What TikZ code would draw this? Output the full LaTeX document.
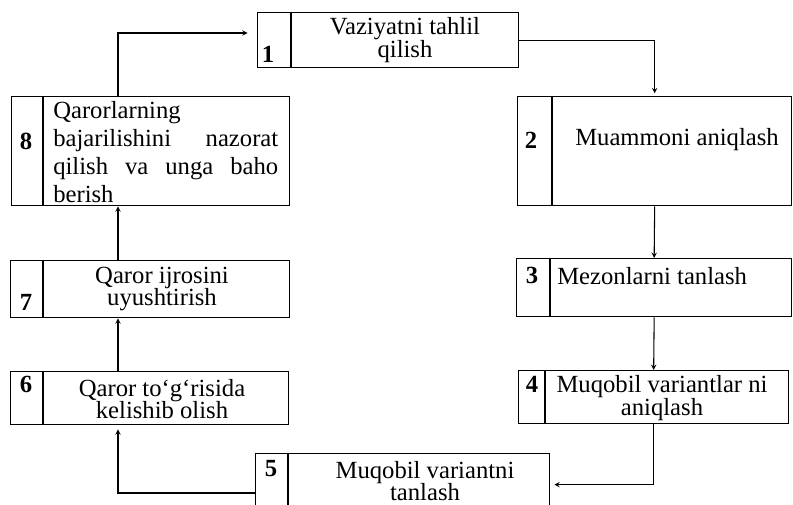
\documentclass[tikz,border=0pt]{standalone}
\usepackage{fontspec}
\setmainfont{Liberation Serif}
\usepackage{tikz}

\tikzset{
  box/.style={draw, line width=1pt, anchor=north west, inner sep=0pt},
  num/.style={font=\fontsize{18.5}{17}\selectfont\bfseries, inner sep=0.75pt},
  txt/.style={inner sep=0.75pt, align=center},
  arr/.style={->, >=stealth, line width=0.8pt},
}

\begin{document}
\begin{tikzpicture}[x=0.75pt,y=0.75pt,yscale=-1,xscale=1, font=\fontsize{18.5}{17}\selectfont]
    \useasboundingbox (0,0) rectangle (793,505);

    %Boxes
    \node (b1) [box, minimum width=195.75pt, minimum height=41.25pt] at (257,12) {};
    \node (b2) [box, minimum width=205.5pt, minimum height=81.75pt] at (517,96) {};
    \node (b3) [box, minimum width=206.25pt, minimum height=43.5pt] at (516,258) {};
    \node (b4) [box, minimum width=202.5pt, minimum height=39.75pt] at (518,370) {};
    \node (b5) [box, minimum width=220.5pt, minimum height=46.5pt] at (255,453) {};
    \node (b6) [box, minimum width=208.5pt, minimum height=39.75pt] at (10,371) {};
    \node (b7) [box, minimum width=209.25pt, minimum height=42.75pt] at (10,260) {};
    \node (b8) [box, minimum width=208.5pt, minimum height=81.75pt] at (11,96) {};

    %Number cells
    \draw [line width=1pt] (291,12) -- (291,67);
    \draw [line width=1pt] (552,96) -- (552,205);
    \draw [line width=1pt] (550,258) -- (550,316);
    \draw [line width=1pt] (545,370) -- (545,423);
    \draw [line width=1pt] (288,453) -- (288,515);
    \draw [line width=1pt] (43,371) -- (43,424);
    \draw [line width=1pt] (43,260) -- (43,317);
    \draw [line width=1pt] (43,96) -- (43,205);

    % Numbers
    \node (n1) [num] at (268,54) {1};
    \node (n2) [num] at (531,140) {2};
    \node (n3) [num] at (532,275) {3};
    \node (n4) [num] at (532,384) {4};
    \node (n5) [num] at (271,469) {5};
    \node (n6) [num] at (26,384) {6};
    \node (n7) [num] at (26,302) {7};
    \node (n8) [num] at (26,141) {8};

    % Text Nodes
    \node (t1) [txt] at (405,40) {Vaziyatni tahlil\\qilish};
    \node (t2) [txt] at (677,140) {Muammoni aniqlash};
    \node (t3) [txt, anchor=west] at (556,276) {Mezonlarni tanlash};
    \node (t4) [txt] at (662,398) {Muqobil variantlar ni\\aniqlash};
    \node (t5) [txt] at (425,481) {Muqobil variantni\\tanlash};
    \node (t6) [txt] at (162,399) {Qaror to‘g‘risida\\kelishib olish};
    \node (t7) [txt] at (162,289) {Qaror ijrosini\\uyushtirish};
    \node (t8) [txt, anchor=north west, text width=168.75pt, align=left,
      font=\fontsize{18.5}{21}\selectfont] at (52,100)
      {Qarorlarning\\bajarilishini\hfill nazorat\\qilish\hfill va\hfill unga\hfill baho\\berish};

    %Connectors
    \coordinate (lx) at (118,0);
    \coordinate (y1) at (0,33);
    \coordinate (y5) at (0,493);
    \draw [arr, shorten >=2pt] (b1.east) -| (b2.north);
    \draw [arr] (b2.south) -- (b3.north);
    \draw [arr] (b3.south) -- (b4.north);
    \draw [arr, shorten >=3pt] (b4.south) |- (b5.east);
    \draw [arr, shorten >=3pt] (b5.west |- y5) -| (lx |- b6.south);
    \draw [arr] (lx |- b6.north) -- (lx |- b7.south);
    \draw [arr] (lx |- b7.north) -- (lx |- b8.south);
    \draw [arr, shorten >=7pt] (lx |- b8.north) |- (b1.west |- y1);

\end{tikzpicture}
\end{document}
